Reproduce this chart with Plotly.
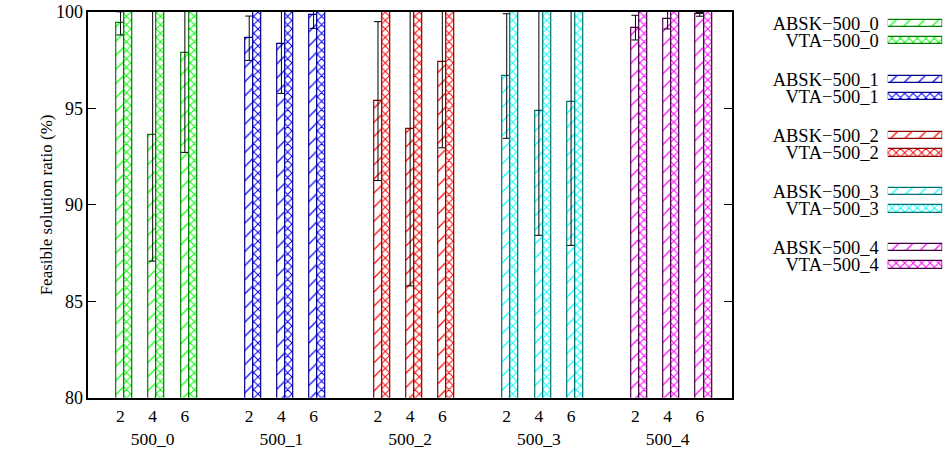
import plotly.graph_objects as go

# ---------------- data ----------------
groups = ["500_0", "500_1", "500_2", "500_3", "500_4"]
clusters = ["2", "4", "6"]

absk_mean = [
    [99.41, 93.62, 97.86],
    [98.64, 98.34, 99.84],
    [95.38, 93.93, 97.42],
    [96.68, 94.88, 95.35],
    [99.19, 99.64, 99.88],
]
absk_err = [
    [0.60, 6.54, 5.14],
    [1.15, 2.56, 0.69],
    [4.12, 8.13, 4.46],
    [3.23, 6.46, 7.45],
    [0.64, 0.52, 0.10],
]
vta_mean = [
    [100.0, 100.0, 100.0],
    [100.0, 100.0, 100.0],
    [100.0, 100.0, 100.0],
    [100.0, 100.0, 100.0],
    [100.0, 100.0, 100.0],
]

bright = ["#00ff00", "#0000ff", "#ff0000", "#00ffff", "#ff00ff"]
dark = ["#007a00", "#00008b", "#8b0000", "#007070", "#400040"]

FONT = "Liberation Serif"
W, H = 945, 461

# plot area in pixels (from reference)
PL, PR, PT, PB = 88.3, 732.0, 12.0, 397.7

fig = go.Figure()

tickvals, ticktext = [], []
for g, grp in enumerate(groups):
    xs = [g * 4 + k for k in range(len(clusters))]
    for k, c in enumerate(clusters):
        tickvals.append(xs[k])
        ticktext.append(c + ("<br>" + grp if k == 1 else ""))
    fig.add_trace(go.Bar(
        x=xs, y=absk_mean[g], width=0.25, offset=-0.125,
        name="ABSK\u2212" + grp, showlegend=False,
        marker=dict(color="white",
                    line=dict(color=dark[g], width=1.2),
                    pattern=dict(shape="/", fgcolor=bright[g], bgcolor="white",
                                 size=10, solidity=0.12, fillmode="replace")),
        error_y=dict(type="data", array=absk_err[g], color="black",
                     thickness=1, width=4),
        xaxis="x", yaxis="y",
    ))
    fig.add_trace(go.Bar(
        x=xs, y=vta_mean[g], width=0.25, offset=0.125,
        name="VTA\u2212" + grp, showlegend=False,
        marker=dict(color="white",
                    line=dict(color=dark[g], width=1.2),
                    pattern=dict(shape="x", fgcolor=bright[g], bgcolor="white",
                                 size=6, solidity=0.3, fillmode="replace")),
        xaxis="x", yaxis="y",
    ))

# ---------------- custom legend (gnuplot style: text left, sample right) ----------------
LEG_TOP, PAIR_STEP, GROUP_STEP = 23.3, 17.3, 56.1
leg_y, leg_text = [], []
for g, grp in enumerate(groups):
    for i, (lab, shape, size, sol) in enumerate([("ABSK", "/", 10, 0.12), ("VTA", "x", 6, 0.3)]):
        yy = LEG_TOP + g * GROUP_STEP + i * PAIR_STEP
        leg_y.append(yy)
        leg_text.append(lab + "\u2212" + grp)
        fig.add_trace(go.Bar(
            x=[1], y=[yy], base=0, orientation="h", width=7.5, showlegend=False,
            hoverinfo="skip",
            marker=dict(color="white", line=dict(color=dark[g], width=1.2),
                        pattern=dict(shape=shape, fgcolor=bright[g], bgcolor="white",
                                     size=size, solidity=sol, fillmode="replace")),
            xaxis="x2", yaxis="y2",
        ))

fig.update_layout(
    width=W, height=H,
    margin=dict(l=0, r=0, t=0, b=0, autoexpand=False),
    paper_bgcolor="white", plot_bgcolor="white",
    barmode="overlay", bargap=0,
    font=dict(family=FONT, size=18, color="black"),
    showlegend=False,
    xaxis=dict(
        domain=[PL / W, PR / W], range=[-1, 19], automargin=False,
        tickvals=tickvals, ticktext=ticktext, ticks="",
        showline=True, linecolor="black", linewidth=1.5, mirror=True,
        showgrid=False, zeroline=False, tickfont=dict(size=17.5),
        ticklabelstandoff=2,
    ),
    yaxis=dict(
        domain=[1 - PB / H, 1 - PT / H], range=[80, 100], automargin=False,
        tickvals=[80, 85, 90, 95, 100], ticks="inside", ticklen=8,
        tickcolor="black", tickwidth=1.2,
        showline=True, linecolor="black", linewidth=1.5, mirror="ticks",
        showgrid=False, zeroline=False, tickfont=dict(size=18),
        ticklabelstandoff=0,
    ),
    xaxis2=dict(domain=[887.7 / W, 942.3 / W], range=[0, 1], anchor="y2",
                visible=False, fixedrange=True, automargin=False),
    yaxis2=dict(domain=[0, 1], range=[H, 0], anchor="x2", automargin=False,
                tickvals=leg_y, ticktext=leg_text, ticks="", fixedrange=True,
                showline=False, showgrid=False, zeroline=False,
                tickfont=dict(size=18.5), ticklabelstandoff=8),
    annotations=[dict(
        text="Feasible solution ratio (%)", textangle=-90,
        x=35 / W, y=1 - ((PT + PB) / 2) / H, xref="paper", yref="paper",
        showarrow=False, font=dict(size=17, family=FONT),
    )],
)

fig.write_html("out.html",
               config={"displayModeBar": False},
               post_script="document.body.style.margin='0px';document.body.style.overflow='hidden';")
